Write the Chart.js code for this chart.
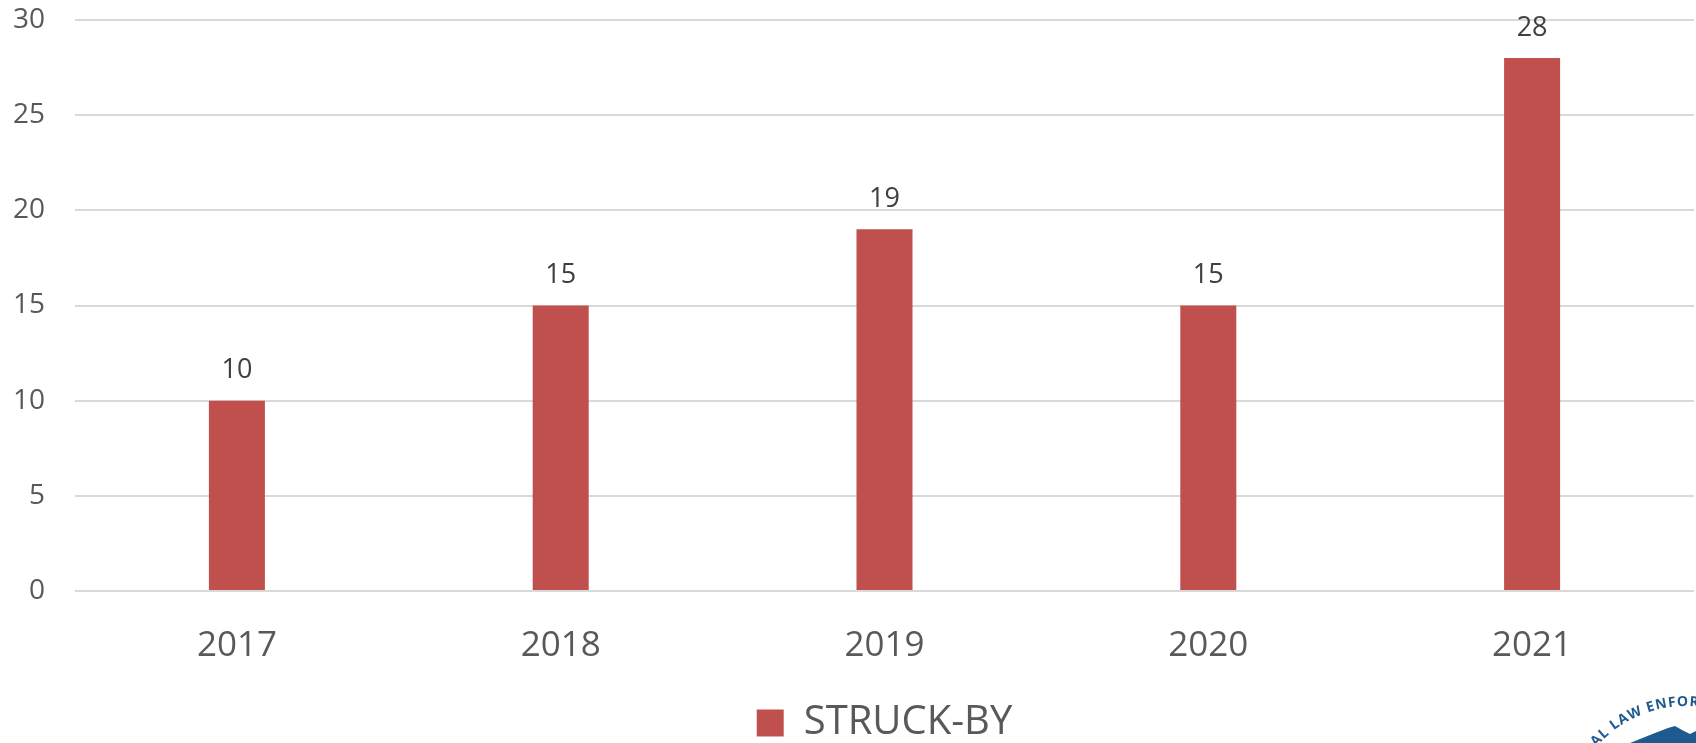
<!DOCTYPE html>
<html>
<head>
<meta charset="utf-8">
<title>STRUCK-BY</title>
<script src="https://cdn.jsdelivr.net/npm/chart.js@4.4.1/dist/chart.umd.min.js"></script>
<style>
    body { margin: 0; background: #ffffff; }
    #wrap { position: relative; width: 1696px; height: 743px; overflow: hidden; }
    #logo { position: absolute; left: 0; top: 0; pointer-events: none; }
</style>
</head>
<body>
<div id="wrap">
    <canvas id="statsChart" width="1696" height="743"></canvas>
    <!-- Sello recortado en la esquina inferior derecha -->
    <svg id="logo" width="1696" height="743">
        <defs>
            <path id="arcoSello" d="M 1567 825 A 119 119 0 0 1 1805 825" />
        </defs>
        <path d="M 1630 743 L 1655 733 L 1668 728 L 1675 726 L 1682 730 L 1690 734 L 1696 731 L 1696 743 Z" fill="#1f5a8f" />
        <text font-family="Open Sans" font-size="14" font-weight="bold" fill="#1f5a8f" letter-spacing="1">
            <textPath href="#arcoSello" startOffset="85">AL LAW ENFORCEMENT</textPath>
        </text>
    </svg>
</div>
<script>
// Datos del gráfico
const categorias = ['2017', '2018', '2019', '2020', '2021'];
const valores = [10, 15, 19, 15, 28];
const ticksY = [0, 5, 10, 15, 20, 25, 30];
const nombreSerie = 'STRUCK-BY';

// Colores
const colorBarra = '#c0504d';
const colorTexto = '#595959';
const colorEtiqueta = '#404040';
const colorGrid = '#d9d9d9';
const fuente = "'Open Sans', 'Noto Sans', sans-serif";

// Plugin para escribir el valor encima de cada barra
const etiquetasValor = {
    id: 'etiquetasValor',
    afterDatasetsDraw(chart) {
        const ctx = chart.ctx;
        const meta = chart.getDatasetMeta(0);
        ctx.save();
        ctx.font = `27px ${fuente}`;
        ctx.fillStyle = colorEtiqueta;
        ctx.textAlign = 'center';
        ctx.textBaseline = 'middle';
        meta.data.forEach((bar, i) => {
            ctx.fillText(String(valores[i]), bar.x, bar.y - 30);
        });
        ctx.restore();
    }
};

const ctx = document.getElementById('statsChart').getContext('2d');
const statsChart = new Chart(ctx, {
    type: 'bar',
    data: {
        labels: categorias,
        datasets: [{
            label: nombreSerie,
            data: valores,
            backgroundColor: colorBarra,
            borderWidth: 0,
            categoryPercentage: 1,
            barPercentage: 0.173
        }]
    },
    options: {
        responsive: false,
        animation: false,
        layout: {
            padding: { top: 20, right: 2, left: 0, bottom: -10 }
        },
        scales: {
            x: {
                grid: { display: false, drawTicks: false },
                border: { display: false },
                ticks: {
                    color: colorTexto,
                    font: { family: fuente, size: 35 },
                    padding: 34,
                    maxRotation: 0
                },
                afterFit(scale) { scale.height = 112; }
            },
            y: {
                min: 0,
                max: ticksY[ticksY.length - 1],
                afterBuildTicks(scale) {
                    scale.ticks = ticksY.map(v => ({ value: v }));
                },
                grid: { color: colorGrid, lineWidth: 2, drawTicks: false },
                border: { display: false },
                ticks: {
                    color: colorTexto,
                    font: { family: fuente, size: 28 },
                    padding: 30
                },
                afterFit(scale) {
                    scale.width = 75;
                    // sin margen extra arriba/abajo por las etiquetas
                    scale.paddingTop = 0;
                    scale.paddingBottom = 0;
                }
            }
        },
        plugins: {
            legend: {
                position: 'bottom',
                fullSize: false,
                labels: {
                    color: colorTexto,
                    font: { family: fuente, size: 40 },
                    boxWidth: 27,
                    boxHeight: 27,
                    padding: 0
                }
            },
            tooltip: { enabled: false }
        }
    },
    plugins: [etiquetasValor]
});
</script>
</body>
</html>
